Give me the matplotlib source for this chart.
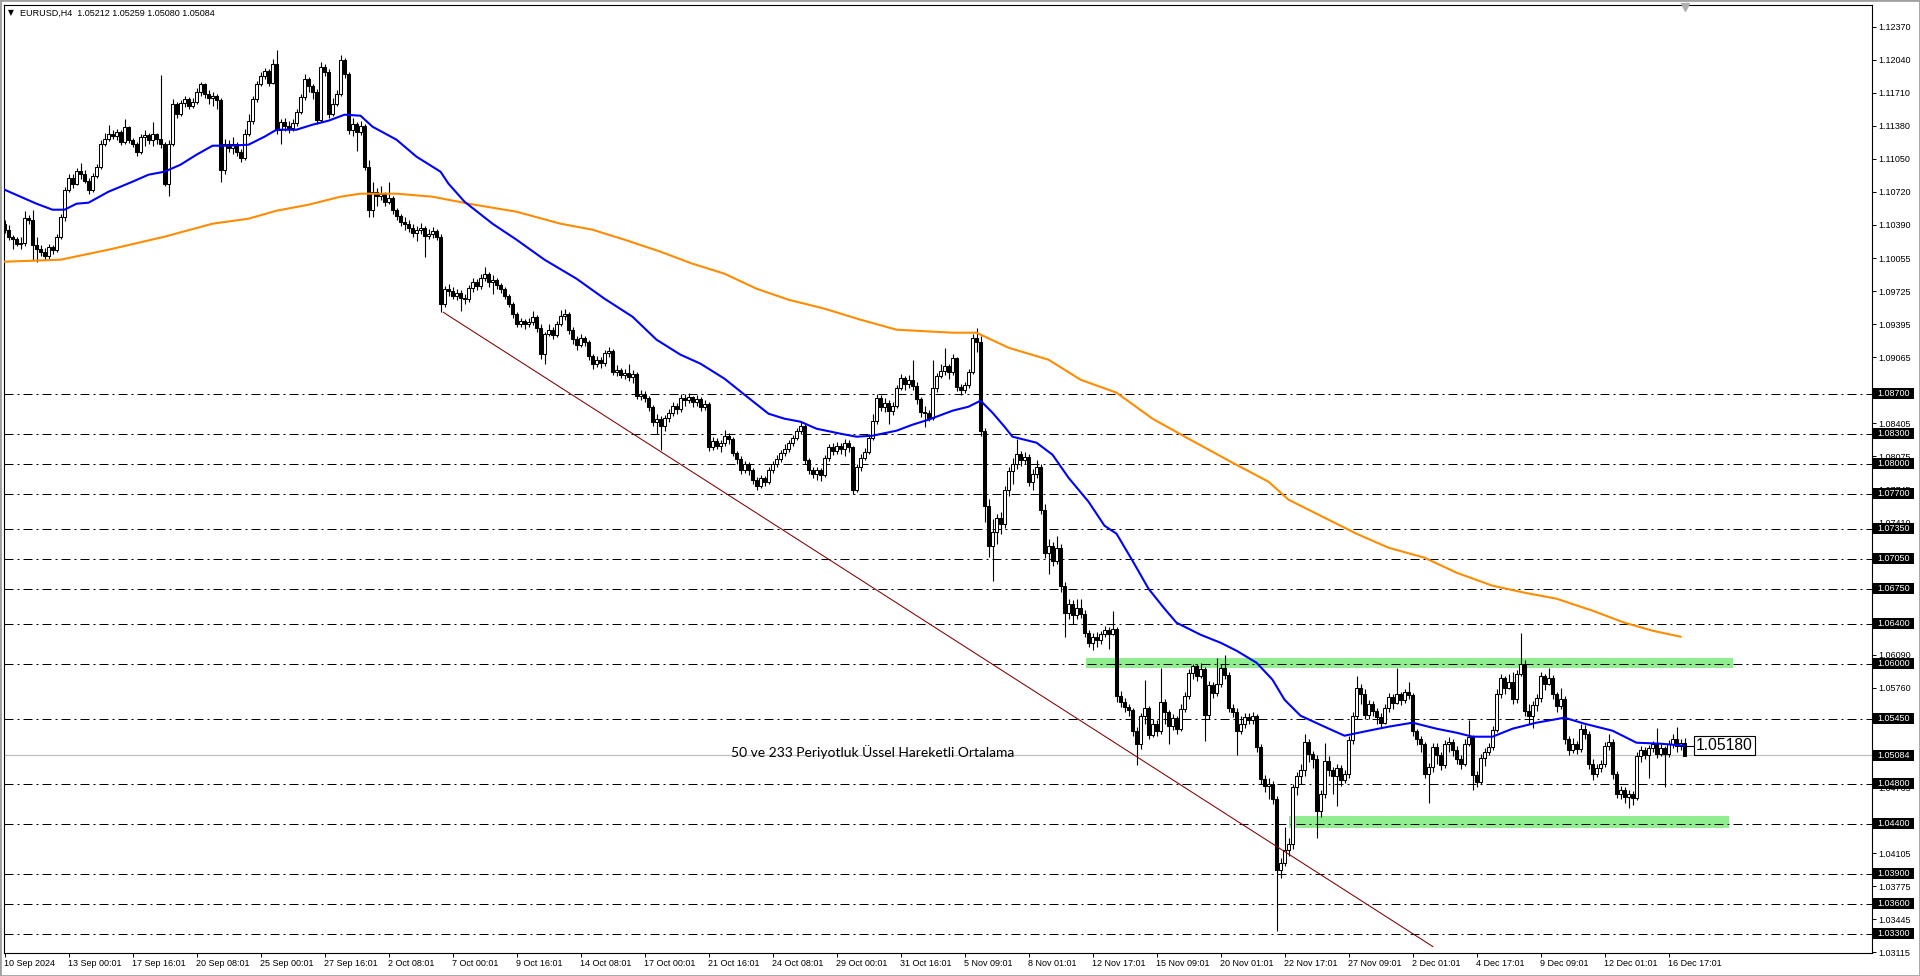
import numpy as np
import matplotlib.pyplot as plt
from matplotlib.patches import Rectangle
from matplotlib.transforms import blended_transform_factory

plt.rcParams['font.family'] = ['Liberation Sans', 'DejaVu Sans']

# EURUSD H4 - fiyatlar pip cinsinden (fiyat = 1 + deger / 10000)
first_open = 1040
close_pips = [
    1034, 1027, 1025, 1020, 1021, 1046, 1044, 1019, 1015, 1012,
    1008, 1017, 1014, 1027, 1047, 1074, 1086, 1080, 1093, 1090,
    1083, 1074, 1088, 1097, 1120, 1125, 1130, 1128, 1132, 1122,
    1137, 1124, 1120, 1112, 1127, 1129, 1124, 1130, 1125, 1120,
    1080, 1120, 1160, 1150, 1161, 1165, 1158, 1162, 1172, 1180,
    1170, 1166, 1168, 1164, 1094, 1120, 1116, 1120, 1112, 1106,
    1130, 1143, 1165, 1180, 1188, 1193, 1181, 1200, 1134, 1142,
    1138, 1136, 1141, 1152, 1167, 1185, 1178, 1172, 1144, 1197,
    1192, 1150, 1160, 1170, 1204, 1190, 1134, 1140, 1132, 1138,
    1097, 1054, 1072, 1068, 1070, 1062, 1066, 1054, 1048, 1042,
    1040, 1036, 1031, 1034, 1036, 1028, 1030, 1033, 1027, 960,
    975, 973, 968, 971, 966, 965, 976, 982, 978, 986,
    990, 982, 984, 979, 975, 968, 960, 950, 940, 943,
    940, 942, 947, 936, 910, 930, 934, 929, 940, 948,
    950, 934, 925, 919, 926, 922, 908, 900, 904, 901,
    911, 913, 892, 894, 889, 891, 887, 890, 868, 870,
    866, 857, 842, 845, 838, 846, 851, 858, 855, 866,
    864, 867, 862, 865, 857, 860, 817, 823, 818, 821,
    828, 825, 811, 805, 794, 800, 794, 784, 778, 786,
    782, 794, 800, 805, 811, 815, 821, 826, 833, 838,
    804, 794, 790, 794, 789, 806, 817, 813, 818, 815,
    821, 817, 774, 797, 806, 812, 826, 843, 866, 857,
    861, 853, 858, 876, 886, 880, 884, 878, 865, 852,
    851, 846, 876, 888, 893, 898, 892, 906, 877, 874,
    879, 892, 926, 922, 833, 758, 718, 732, 746, 740,
    774, 793, 800, 810, 804, 807, 782, 790, 797, 754,
    711, 718, 703, 716, 678, 651, 660, 649, 656, 650,
    631, 621, 627, 624, 630, 634, 630, 635, 568, 562,
    557, 554, 533, 520, 548, 556, 529, 540, 533, 562,
    552, 538, 546, 535, 555, 568, 591, 598, 588, 595,
    549, 579, 571, 580, 596, 589, 556, 552, 533, 540,
    547, 544, 548, 517, 485, 478, 480, 465, 394, 401,
    414, 420, 477, 488, 494, 522, 510, 505, 453, 470,
    503, 494, 488, 496, 484, 490, 524, 548, 576, 570,
    549, 560, 553, 547, 541, 556, 567, 561, 570, 564,
    572, 569, 533, 525, 520, 490, 497, 517, 509, 499,
    520, 522, 514, 505, 500, 520, 527, 489, 482, 506,
    512, 517, 534, 570, 586, 576, 582, 565, 590, 600,
    553, 548, 559, 566, 588, 580, 586, 570, 558, 565,
    525, 514, 520, 515, 535, 530, 500, 490, 496, 500,
    518, 522, 490, 470, 474, 467, 470, 466, 508, 514,
    509, 516, 520, 510, 516, 510, 520, 525, 518, 521,
    508]
high_pips = [
    1044, 1039, 1029, 1027, 1027, 1053, 1049, 1054, 1027, 1019,
    1016, 1020, 1019, 1030, 1050, 1077, 1090, 1090, 1096, 1101,
    1094, 1086, 1091, 1100, 1124, 1131, 1139, 1134, 1135, 1134,
    1145, 1138, 1126, 1122, 1130, 1134, 1131, 1142, 1131, 1189,
    1122, 1124, 1165, 1162, 1164, 1168, 1167, 1166, 1176, 1182,
    1181, 1174, 1172, 1170, 1166, 1125, 1124, 1127, 1122, 1115,
    1135, 1150, 1168, 1183, 1192, 1196, 1195, 1205, 1214, 1145,
    1146, 1143, 1145, 1155, 1170, 1190, 1187, 1180, 1175, 1202,
    1200, 1195, 1166, 1174, 1209, 1206, 1192, 1146, 1142, 1143,
    1140, 1104, 1082, 1076, 1078, 1072, 1082, 1068, 1056, 1050,
    1047, 1044, 1040, 1038, 1041, 1038, 1035, 1037, 1035, 1030,
    978, 980, 977, 975, 974, 970, 979, 986, 985, 990,
    997, 992, 989, 986, 981, 977, 970, 962, 952, 946,
    945, 946, 953, 949, 940, 932, 940, 937, 943, 954,
    955, 952, 937, 928, 930, 928, 924, 910, 908, 907,
    914, 917, 915, 899, 896, 895, 900, 894, 892, 874,
    873, 868, 859, 850, 848, 849, 855, 862, 861, 870,
    870, 871, 868, 869, 867, 864, 862, 827, 826, 824,
    834, 831, 827, 813, 808, 803, 802, 796, 787, 789,
    788, 797, 803, 809, 814, 820, 824, 829, 836, 842,
    840, 806, 797, 797, 796, 809, 820, 821, 822, 821,
    825, 824, 818, 800, 810, 816, 830, 850, 870, 869,
    866, 864, 862, 879, 890, 888, 889, 904, 882, 867,
    858, 854, 904, 891, 900, 916, 900, 910, 907, 880,
    882, 895, 930, 936, 928, 836, 765, 745, 750, 752,
    778, 797, 806, 825, 813, 812, 810, 795, 804, 800,
    760, 725, 722, 728, 720, 682, 665, 664, 665, 665,
    654, 634, 631, 632, 633, 638, 637, 653, 637, 573,
    566, 560, 556, 537, 551, 584, 558, 545, 544, 596,
    565, 554, 550, 548, 560, 572, 595, 600, 600, 601,
    597, 583, 582, 606, 600, 609, 592, 560, 556, 548,
    551, 551, 552, 550, 520, 489, 486, 483, 468, 406,
    437, 426, 480, 492, 500, 530, 525, 513, 509, 474,
    521, 508, 497, 500, 499, 494, 528, 552, 588, 580,
    575, 564, 563, 556, 551, 560, 571, 570, 596, 572,
    575, 582, 571, 535, 528, 522, 501, 521, 521, 512,
    524, 527, 525, 518, 509, 525, 544, 529, 493, 510,
    516, 521, 538, 575, 590, 588, 590, 592, 594, 631,
    604, 560, 563, 570, 592, 590, 596, 589, 572, 576,
    568, 528, 526, 523, 540, 539, 533, 505, 500, 504,
    522, 530, 525, 493, 478, 477, 474, 473, 512, 518,
    517, 519, 523, 536, 520, 518, 524, 530, 537, 525,
    526]
low_pips = [
    1031, 1024, 1015, 1018, 1015, 1018, 1040, 1004, 1002, 1008,
    1004, 1005, 1010, 1012, 1025, 1043, 1072, 1076, 1079, 1085,
    1081, 1070, 1072, 1086, 1095, 1118, 1123, 1125, 1124, 1119,
    1120, 1121, 1117, 1108, 1110, 1118, 1120, 1118, 1120, 1116,
    1078, 1068, 1118, 1146, 1148, 1157, 1155, 1156, 1160, 1168,
    1166, 1160, 1158, 1155, 1082, 1090, 1112, 1110, 1108, 1102,
    1104, 1128, 1140, 1162, 1178, 1185, 1178, 1180, 1130, 1120,
    1133, 1131, 1133, 1138, 1150, 1164, 1172, 1165, 1140, 1142,
    1188, 1146, 1148, 1158, 1168, 1186, 1130, 1128, 1113, 1129,
    1094, 1047, 1047, 1058, 1064, 1058, 1060, 1050, 1044, 1038,
    1034, 1032, 1027, 1023, 1030, 1007, 1025, 1026, 1024, 952,
    957, 968, 965, 964, 953, 960, 962, 972, 974, 975,
    983, 977, 970, 975, 971, 965, 957, 946, 937, 937,
    935, 937, 939, 932, 905, 900, 928, 925, 927, 938,
    944, 930, 920, 914, 917, 918, 904, 895, 897, 896,
    898, 907, 889, 888, 886, 885, 883, 881, 865, 864,
    862, 853, 838, 830, 814, 833, 842, 848, 850, 852,
    858, 861, 857, 858, 853, 854, 813, 814, 815, 812,
    818, 820, 808, 800, 790, 791, 789, 780, 774, 776,
    778, 780, 791, 797, 802, 808, 812, 818, 824, 830,
    800, 790, 786, 784, 783, 787, 803, 809, 810, 810,
    808, 812, 770, 772, 793, 804, 810, 824, 840, 853,
    852, 840, 849, 856, 874, 874, 876, 874, 860, 847,
    837, 843, 844, 872, 886, 889, 885, 889, 873, 869,
    871, 876, 890, 912, 828, 742, 707, 683, 720, 730,
    736, 768, 780, 795, 798, 800, 778, 774, 786, 750,
    706, 690, 698, 700, 672, 627, 645, 640, 645, 646,
    627, 617, 614, 617, 620, 627, 615, 629, 562, 557,
    552, 548, 528, 499, 515, 540, 525, 527, 528, 530,
    540, 520, 534, 530, 533, 552, 565, 585, 583, 586,
    523, 545, 566, 568, 577, 585, 552, 547, 509, 530,
    536, 540, 540, 512, 480, 472, 465, 460, 333, 386,
    398, 408, 415, 469, 480, 488, 502, 496, 426, 447,
    466, 488, 470, 458, 478, 481, 486, 520, 545, 560,
    545, 545, 548, 540, 536, 540, 552, 555, 560, 559,
    561, 565, 528, 519, 512, 486, 461, 492, 500, 494,
    496, 512, 508, 500, 495, 498, 518, 474, 477, 480,
    498, 509, 514, 532, 566, 570, 575, 560, 561, 588,
    548, 540, 536, 553, 562, 574, 579, 565, 552, 555,
    520, 509, 511, 510, 512, 525, 495, 484, 487, 492,
    497, 514, 485, 466, 465, 461, 456, 459, 464, 502,
    505, 486, 512, 506, 508, 477, 507, 516, 512, 514,
    508]

# 50 ve 233 periyot ustel hareketli ortalama (grafikten okunan noktalar)
ema50_bars = [0, 4, 8, 12, 15, 18, 21, 26, 32, 36, 40, 44, 48, 52, 56, 61, 65, 68, 73, 77,
              81, 85, 89, 92, 98, 103, 109, 111, 115, 122, 128, 135, 143, 150, 157, 163, 169, 174, 180, 185,
              191, 195, 199, 203, 209, 213, 217, 223, 227, 231, 237, 241, 244, 247, 250, 252, 258, 262, 266, 271,
              275, 278, 282, 286, 290, 293, 299, 304, 308, 313, 317, 320, 324, 330, 335, 341, 346, 352, 358, 363,
              367, 372, 377, 383, 390, 395, 402, 408, 414, 420]
ema50_pips = [1074, 1067, 1060, 1054, 1054, 1060, 1061, 1072, 1082, 1089, 1092, 1099, 1109, 1118, 1118, 1119, 1127, 1134, 1134, 1139,
              1143, 1149, 1148, 1137, 1124, 1107, 1092, 1080, 1062, 1040, 1024, 1004, 985, 965, 947, 924, 909, 900, 885, 869,
              850, 845, 842, 835, 830, 827, 828, 833, 839, 844, 853, 857, 863, 851, 837, 827, 821, 809, 786, 762,
              738, 730, 703, 675, 655, 641, 629, 621, 613, 601, 584, 564, 548, 537, 528, 533, 537, 541, 535, 531,
              527, 527, 535, 541, 546, 540, 533, 521, 520, 518]
ema233_bars = [0, 14, 26, 40, 52, 61, 68, 76, 84, 89, 98, 107, 116, 128, 139, 147, 155, 164, 172, 180,
               188, 196, 205, 214, 223, 237, 243, 251, 261, 269, 278, 287, 296, 307, 316, 321, 330, 338, 346, 355,
               363, 372, 380, 388, 397, 405, 412, 419]
ema233_pips = [1002, 1004, 1014, 1027, 1040, 1045, 1053, 1059, 1067, 1070, 1070, 1067, 1060, 1052, 1040, 1034, 1024, 1012, 1000, 990,
               975, 964, 955, 944, 934, 931, 931, 916, 904, 884, 871, 845, 825, 801, 782, 764, 746, 730, 716, 706,
               691, 678, 671, 665, 653, 641, 633, 627]

# yatay seviyeler
levels = [1.0870, 1.0830, 1.0800, 1.0770, 1.0735, 1.0705, 1.0675, 1.0640, 1.0600,
          1.0545, 1.0480, 1.0440, 1.0390, 1.0360, 1.0330]
bid_price = 1.05084
label_price = 1.05180
zones = [(270.3, 432, 1.0596, 1.0606), (321, 431, 1.0436, 1.0448)]
trend_bars = [109.7, 357.1]
trend_prices = [1.09514, 1.03171]

scale_ticks = [1.12370, 1.12040, 1.11710, 1.11380, 1.11050, 1.10720, 1.10390, 1.10055, 1.09725,
               1.09395, 1.09065, 1.08735, 1.08405, 1.08075, 1.07745, 1.07410, 1.07080, 1.06750,
               1.06420, 1.06090, 1.05760, 1.05430, 1.05100, 1.04765, 1.04435, 1.04105, 1.03775,
               1.03445, 1.03115]
time_labels = ['10 Sep 2024', '13 Sep 00:01', '17 Sep 16:01', '20 Sep 08:01', '25 Sep 00:01',
               '27 Sep 16:01', '2 Oct 08:01', '7 Oct 00:01', '9 Oct 16:01', '14 Oct 08:01',
               '17 Oct 00:01', '21 Oct 16:01', '24 Oct 08:01', '29 Oct 00:01', '31 Oct 16:01',
               '5 Nov 09:01', '8 Nov 01:01', '12 Nov 17:01', '15 Nov 09:01', '20 Nov 01:01',
               '22 Nov 17:01', '27 Nov 09:01', '2 Dec 01:01', '4 Dec 17:01', '9 Dec 09:01',
               '12 Dec 01:01', '16 Dec 17:01']

# fiyata cevir
c = 1 + np.array(close_pips) / 1e4
o = 1 + np.array([first_open] + close_pips[:-1]) / 1e4
h = 1 + np.array(high_pips) / 1e4
l = 1 + np.array(low_pips) / 1e4
h = np.maximum(h, np.maximum(o, c))
l = np.minimum(l, np.minimum(o, c))
idx = np.arange(len(c))

W, H = 1920, 976
fig = plt.figure(figsize=(W / 100, H / 100), dpi=100)
fig.patch.set_facecolor('white')
ax = fig.add_axes([4 / W, (H - 953) / H, (1872 - 4) / W, (953 - 4.7) / H])
ax.set_xlim(-0.125, 466.875)
ax.set_ylim(1.03107, 1.12590)

# bolgeler
for x0, x1, y0, y1 in zones:
    ax.fill_between([x0, x1], y0, y1, color='#90ee90', lw=0, zorder=1)

# kesikli seviyeler
for lv in levels:
    ax.axhline(lv, color='black', lw=0.72, linestyle=(0, (9, 4, 2, 4)), zorder=2)
ax.axhline(bid_price, color='#c0c0c0', lw=0.9, zorder=1.5)

# mumlar
ax.vlines(idx, l, h, color='black', lw=0.8, zorder=3)
up = c >= o
body = np.maximum(np.abs(c - o), 0.00003)
ax.bar(idx, body, bottom=np.minimum(o, c), width=0.58,
       color=np.where(up, 'white', 'black'), edgecolor='black', linewidth=0.75, zorder=4)

# ortalamalar
ax.plot(ema233_bars, 1 + np.array(ema233_pips) / 1e4, color='#ff8c00', lw=1.5, zorder=5)
ax.plot(ema50_bars, 1 + np.array(ema50_pips) / 1e4, color='#0000ff', lw=1.5, zorder=6)

# trend cizgisi
ax.plot(trend_bars, trend_prices, color='#800000', lw=0.75, zorder=6)

# fiyat etiketi
ax.plot([len(c) - 1, len(c) + 1.8], [label_price, label_price], color='black', lw=0.8, zorder=7)
ax.text(len(c) + 1.9, label_price, f'{label_price:.5f}', fontsize=11.3, va='center', ha='left',
        zorder=8, bbox=dict(boxstyle='square,pad=0.12', fc='white', ec='black', lw=0.8))

ax.text(217.1, 1.05117, '50 ve 233 Periyotluk Üssel Hareketli Ortalama', family='Lato',
        fontsize=10, ha='center', va='center', zorder=8)

# eksenler
for sp in ax.spines.values():
    sp.set_linewidth(0.8)
ax.yaxis.tick_right()
ax.set_yticks(scale_ticks)
ax.set_yticklabels([f'{t:.5f}' for t in scale_ticks])
ax.tick_params(axis='y', length=2.9, width=0.7, pad=2, labelsize=6.5)
ax.set_xticks(np.arange(len(time_labels)) * 16)
ax.set_xticklabels(time_labels)
ax.tick_params(axis='x', length=2.9, width=0.7, pad=1.5, labelsize=6.5)
for t in ax.get_xticklabels():
    t.set_ha('left')

# sag eksendeki siyah kutular
tr = blended_transform_factory(ax.transAxes, ax.transData)
for lv in levels + [bid_price]:
    ax.add_patch(Rectangle((1.0005, lv - 0.00055), 0.02195, 0.0011, transform=tr,
                           fc='black', ec='none', clip_on=False, zorder=9))
    ax.text(1.0005 + 0.02195 / 2, lv, f'{lv:.5f}', transform=tr, color='white',
            fontsize=6.5, ha='center', va='center', clip_on=False, zorder=10)

# ust bilgi
fig.text(8 / W, 1 - 13 / H, '▼', family='DejaVu Sans', fontsize=5.5, va='center', ha='left')
fig.text(20.5 / W, 1 - 13 / H, 'EURUSD,H4  1.05212 1.05259 1.05080 1.05084',
         fontsize=6.5, va='center', ha='left')
ax.plot([420], [1.12570], marker='v', color='#b0b0b0', markersize=6, clip_on=False, zorder=9)

fig.patches.append(Rectangle((0, 0), 1, 1, transform=fig.transFigure, fill=False,
                             ec='#a0a0a0', lw=2))

fig.savefig('out.png', dpi=100)
